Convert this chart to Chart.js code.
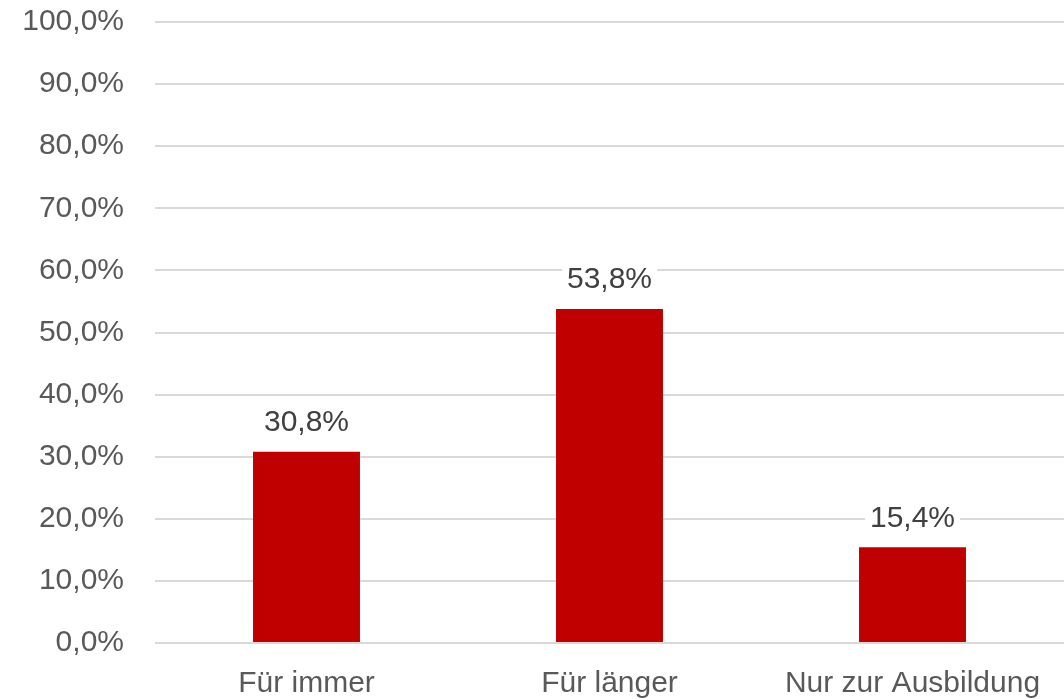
<!DOCTYPE html>
<html lang="de">
<head>
<meta charset="utf-8">
<title>Chart</title>
<script src="https://cdn.jsdelivr.net/npm/chart.js@4/dist/chart.umd.min.js"></script>
<style>
  html, body { margin: 0; padding: 0; background: #fff; }
  #wrap { width: 1064px; height: 699px; position: relative; }
</style>
</head>
<body>
<div id="wrap"><canvas id="myChart"></canvas></div>
<script>
'use strict';

// DATA
let categories = ['Für immer', 'Für länger', 'Nur zur Ausbildung'];
let shares = [30.8, 53.8, 15.4];
let tickValues = [0, 10, 20, 30, 40, 50, 60, 70, 80, 90, 100];

let fontFamily = '"Liberation Sans", Arial, sans-serif';
let fontSize = 30;

function formatDe(value, digits) {
  return value.toFixed(digits).replace('.', ',') + '%';
}

// labels above the bars, white box behind so gridlines get covered
let valueLabels = {
  id: 'valueLabels',
  afterDatasetsDraw(chart) {
    let ctx = chart.ctx;
    let meta = chart.getDatasetMeta(0);
    ctx.save();
    ctx.font = fontSize + 'px ' + fontFamily;
    ctx.textAlign = 'center';
    ctx.textBaseline = 'middle';
    meta.data.forEach(function (bar, i) {
      let text = formatDe(shares[i], 1);
      let w = ctx.measureText(text).width;
      let y = bar.y - 29;
      ctx.fillStyle = '#ffffff';
      ctx.fillRect(bar.x - w / 2 - 5, y - 18, w + 10, 36);
      ctx.fillStyle = '#404040';
      ctx.fillText(text, bar.x, y);
    });
    ctx.restore();
  }
};

let canvasElem = document.getElementById('myChart').getContext('2d');

new Chart(canvasElem, {
  type: 'bar',
  data: {
    labels: categories,
    datasets: [{
      data: shares,
      backgroundColor: '#C00000',
      borderWidth: 0,
      barPercentage: 0.353,
      categoryPercentage: 1
    }]
  },
  options: {
    responsive: true,
    maintainAspectRatio: false,
    animation: false,
    layout: { padding: 0 },
    plugins: {
      legend: { display: false },
      tooltip: { enabled: false }
    },
    scales: {
      x: {
        grid: { display: false, drawTicks: false },
        border: { display: false },
        afterFit(axis) { axis.height = 56; },
        ticks: {
          color: '#595959',
          padding: 23,
          maxRotation: 0,
          font: { family: fontFamily, size: fontSize }
        }
      },
      y: {
        min: 0,
        max: 100,
        afterBuildTicks(axis) {
          axis.ticks = tickValues.map(function (v) { return { value: v }; });
        },
        afterFit(axis) {
          axis.width = 155;
          axis.paddingTop = 22;
          axis.paddingBottom = 0;
        },
        grid: { color: '#d9d9d9', lineWidth: 2, drawTicks: false },
        border: { display: false },
        ticks: {
          color: '#595959',
          padding: 31,
          font: { family: fontFamily, size: fontSize },
          callback: function (v) { return formatDe(v, 1); }
        }
      }
    }
  },
  plugins: [valueLabels]
});
</script>
</body>
</html>
